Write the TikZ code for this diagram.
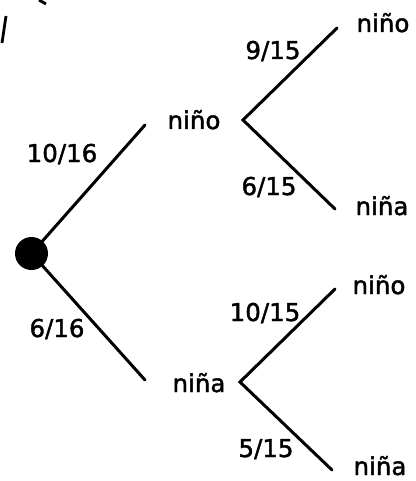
\documentclass[tikz,border=0pt]{standalone}
\usepackage{fontspec}
\setmainfont{DejaVu Sans}
\newfontfamily\lblfont{DejaVu Sans}[FakeBold=1.6]
\begin{document}
\begin{tikzpicture}[x=1pt,y=-1pt,
  lbl/.style={anchor=base,inner sep=0pt,font=\lblfont\fontsize{24.5}{29}\selectfont},
  branch/.style={line width=3pt,line cap=round,line join=miter}]
\useasboundingbox (0,0) rectangle (415,481);
% cropped remnants at the top left
\draw[line width=2.8pt] (6,16) -- (2,43);
\draw[line width=2.8pt] (39,0) -- (46,4);
% root
\node[circle,fill=black,inner sep=0pt,minimum size=33pt] (root) at (31.5,253.5) {};
% first level
\coordinate (a1) at (145,125);
\coordinate (b1) at (145,380);
\draw[branch] (root.center) -- (a1);
\draw[branch] (root.center) -- (b1);
\node[lbl] (p1016) at (62,162) {10/16};
\node[lbl] (p616) at (57,337) {6/16};
\node[lbl] (nino1) at (194,129) {niño};
\node[lbl] (nina1) at (199,392) {niña};
% upper subtree
\coordinate (va) at (243,120);
\coordinate (aa) at (337,28);
\coordinate (ab) at (335,209);
\draw[branch] (aa) -- (va) -- (ab);
\node[lbl] (p915) at (273,59) {9/15};
\node[lbl] (p615) at (269,195) {6/15};
\node[lbl] (nino2) at (383,32) {niño};
\node[lbl] (nina2) at (382,215) {niña};
% lower subtree
\coordinate (vb) at (240,382);
\coordinate (ba) at (335,289);
\coordinate (bb) at (332,470);
\draw[branch] (ba) -- (vb) -- (bb);
\node[lbl] (p1015) at (265,321) {10/15};
\node[lbl] (p515) at (266,457) {5/15};
\node[lbl] (nino3) at (379,294) {niño};
\node[lbl] (nina3) at (380,475) {niña};
\end{tikzpicture}
\end{document}
